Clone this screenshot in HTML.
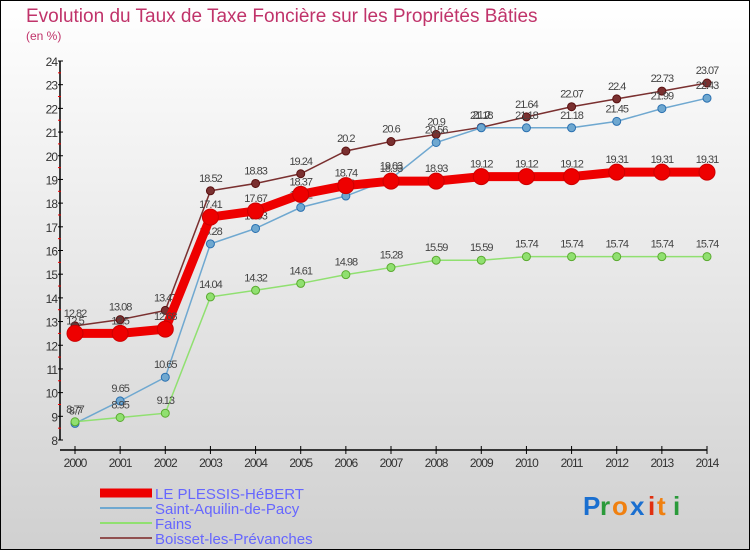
<!DOCTYPE html>
<html><head><meta charset="utf-8"><style>
body{margin:0;width:750px;height:550px;overflow:hidden;font-family:"Liberation Sans",sans-serif}
</style></head><body>
<svg id="chart" width="750" height="550" xmlns="http://www.w3.org/2000/svg">
<defs><linearGradient id="bg" x1="0" y1="0" x2="0" y2="1"><stop offset="0" stop-color="#ffffff"/><stop offset="1" stop-color="#d0d0d0"/></linearGradient></defs>
<rect x="0.5" y="0.5" width="749" height="549" fill="url(#bg)" stroke="#000"/>
<text x="26" y="22" font-size="19" fill="#c0336a">Evolution du Taux de Taxe Foncière sur les Propriétés Bâties</text>
<text x="26" y="40" font-size="12" fill="#c0336a">(en %)</text>
<g id="axes"></g><g id="series"></g>
<g>
<line x1="100" y1="493" x2="152" y2="493" stroke="#e00" stroke-width="9"/>
<text x="155" y="499" font-size="15" fill="#6666ff">LE PLESSIS-HéBERT</text>
<line x1="100" y1="508" x2="152" y2="508" stroke="#6fa8d0" stroke-width="2"/>
<text x="155" y="514" font-size="15" fill="#6666ff">Saint-Aquilin-de-Pacy</text>
<line x1="100" y1="523" x2="152" y2="523" stroke="#90e070" stroke-width="2"/>
<text x="155" y="529" font-size="15" fill="#6666ff">Fains</text>
<line x1="100" y1="538" x2="152" y2="538" stroke="#905050" stroke-width="2"/>
<text x="155" y="544" font-size="15" fill="#6666ff">Boisset-les-Prévanches</text>
</g>
<g font-size="26" font-weight="bold">
<text x="583" y="515" fill="#1a6fd0">P</text><text x="600" y="515" fill="#2a9a3a">r</text><text x="612" y="515" fill="#f08010">o</text><text x="630" y="515" fill="#1a6fd0">x</text><text x="648" y="515" fill="#e03010">i</text><text x="657" y="515" fill="#f08010">t</text><text x="673" y="515" fill="#2a9a3a">i</text>
</g>
</svg>
<script>
const years=[2000,2001,2002,2003,2004,2005,2006,2007,2008,2009,2010,2011,2012,2013,2014];
const yTicks=[8,9,10,11,12,13,14,15,16,17,18,19,20,21,22,23,24];
const plessis=[12.5,12.5,12.68,17.41,17.67,18.37,18.74,18.93,18.93,19.12,19.12,19.12,19.31,19.31,19.31];
const saintAquilin=[8.7,9.65,10.65,16.28,16.93,17.82,18.3,19.03,20.56,21.18,21.18,21.18,21.45,21.99,22.43];
const fains=[8.77,8.95,9.13,14.04,14.32,14.61,14.98,15.28,15.59,15.59,15.74,15.74,15.74,15.74,15.74];
const boisset=[12.82,13.08,13.47,18.52,18.83,19.24,20.2,20.6,20.9,21.2,21.64,22.07,22.4,22.73,23.07];
const NS="http://www.w3.org/2000/svg";
const X=i=>75+i*(707-75)/(years.length-1);
const Y=v=>440-(v-8)*(440-61)/16;
function mk(tag,attrs,parent,text){const e=document.createElementNS(NS,tag);for(const k in attrs)e.setAttribute(k,attrs[k]);if(text!==undefined)e.textContent=text;parent.appendChild(e);return e;}
const ax=document.getElementById('axes');
let a=mk('line',{x1:60,y1:61,x2:60,y2:440,stroke:'#000','stroke-width':1.5},ax);


let b=mk('line',{x1:60,y1:450,x2:707,y2:450,stroke:'#000','stroke-width':1.5},ax);


yTicks.forEach(t=>{
  mk('line',{x1:58,y1:Y(t),x2:63,y2:Y(t),stroke:'#000'},ax);
  if(t<24)mk('line',{x1:58,y1:Y(t+0.5),x2:61,y2:Y(t+0.5),stroke:'#e00'},ax);
  const l=mk('text',{x:57,y:Y(t)+5,'font-size':12,'text-anchor':'end',fill:'#333','letter-spacing':'-1'},ax,String(t));
  
  
});
years.forEach((y,i)=>{
  mk('line',{x1:X(i),y1:446,x2:X(i),y2:454,stroke:'#000'},ax);
  const l=mk('text',{x:X(i),y:467,'font-size':12,'text-anchor':'middle',fill:'#333','letter-spacing':'-1'},ax,String(y));
  
  
});
const sg=document.getElementById('series');
function draw(data,name,color,w,r,stroke){
  const g=mk('g',{},sg);
  
  
  mk('polyline',{points:data.map((v,i)=>X(i)+','+Y(v)).join(' '),fill:'none',stroke:color,'stroke-width':w},g);
  data.forEach((v,i)=>{
    const c=mk('circle',{cx:X(i),cy:Y(v),r:r,fill:color,stroke:stroke,'stroke-width':1},g);
    
    
    const t=mk('text',{x:X(i),y:Y(v)-9,'font-size':11,'text-anchor':'middle',fill:'#444','letter-spacing':'-1'},g,String(v));
    
    
  });
}
draw(boisset,'boisset','#7a3030',1.5,4,'#5a1010');
draw(saintAquilin,'saint-aquilin','#6fa8d0',1.5,4,'#2a70b0');
draw(fains,'fains','#90e070',1.5,4,'#5aaa30');
draw(plessis,'plessis','#ee0000',9,8,'#cc0000');
</script>
</body></html>
